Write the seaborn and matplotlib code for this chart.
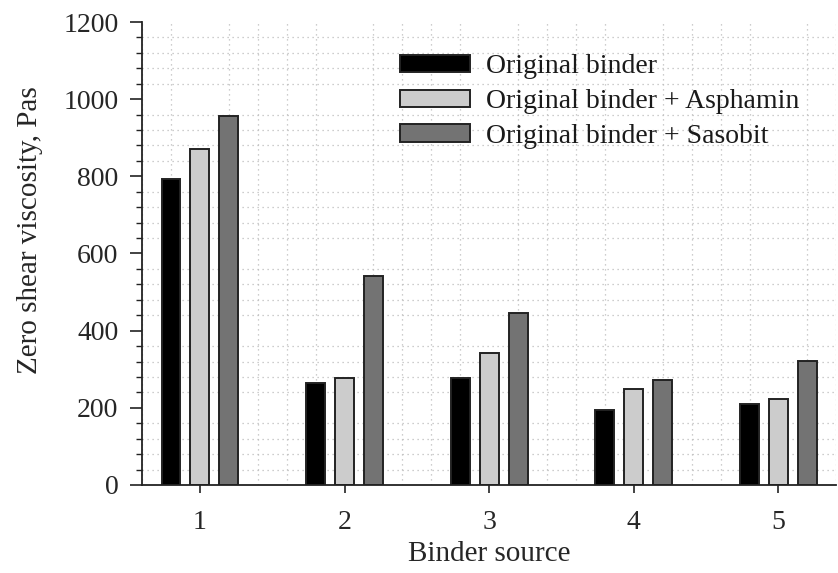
import matplotlib
matplotlib.use("Agg")
import matplotlib.pyplot as plt
from matplotlib.ticker import MultipleLocator, FixedLocator
import seaborn as sns
import pandas as pd

# Zero shear viscosity (Pa·s) per binder source and modification
sources = ["1", "2", "3", "4", "5"]
original = [793, 264, 277, 194, 210]
asphamin = [871, 277, 342, 249, 223]
sasobit = [956, 542, 446, 272, 321]
series_names = ["Original binder", "Original binder + Asphamin", "Original binder + Sasobit"]
bar_colors = ["#000000", "#cccccc", "#737373"]

df = pd.DataFrame({
    "source": sources * 3,
    "viscosity": original + asphamin + sasobit,
    "binder": [series_names[0]] * 5 + [series_names[1]] * 5 + [series_names[2]] * 5,
})

sns.set_style("white")
plt.rcParams["font.family"] = ["Liberation Serif", "DejaVu Serif"]
plt.rcParams["text.color"] = "#1a1a1a"

fig = plt.figure(figsize=(8.38, 5.73), dpi=100)
ax = fig.add_axes([0.1695, 0.1536, 0.8285, 0.808])

sns.barplot(
    data=df, x="source", y="viscosity", hue="binder",
    hue_order=series_names, palette=bar_colors,
    width=0.6, gap=0.35, edgecolor="#222222", linewidth=1.4,
    errorbar=None, ax=ax,
)

ax.set_xlim(-0.4, 4.4)
ax.set_ylim(0, 1200)
ax.yaxis.set_major_locator(MultipleLocator(200))
ax.yaxis.set_minor_locator(MultipleLocator(40))
ax.xaxis.set_major_locator(FixedLocator(range(5)))
ax.xaxis.set_minor_locator(MultipleLocator(0.2))
ax.set_xticklabels(sources)

ax.grid(False, which="major")
ax.grid(True, which="minor", linestyle=(0, (1, 3)), color="#bdbdbd", linewidth=0.9)
ax.set_axisbelow(True)

for side in ["top", "right"]:
    ax.spines[side].set_visible(False)
for side in ["left", "bottom"]:
    ax.spines[side].set_color("#222222")
    ax.spines[side].set_linewidth(1.3)

ax.tick_params(axis="y", which="major", direction="out", length=9, width=1.2,
               color="#222222", labelsize=20, pad=8, left=True)
ax.tick_params(axis="y", which="minor", direction="out", length=4.5, width=1.0,
               color="#222222", left=True)
ax.tick_params(axis="x", which="major", direction="out", length=6, width=1.2,
               color="#222222", labelsize=20, pad=12, bottom=True)
ax.tick_params(axis="x", which="minor", length=0)

ax.set_xlabel("Binder source", fontsize=21)
ax.set_ylabel("Zero shear viscosity, Pas", fontsize=21)
ax.xaxis.set_label_coords(0.5, -0.122)
ax.yaxis.set_label_coords(-0.142, 0.55)

ax.legend(
    loc="upper left", bbox_to_anchor=(0.372, 0.93), frameon=False,
    fontsize=20, handlelength=2.5, handleheight=0.6, handletextpad=0.6,
    labelspacing=0.35, borderaxespad=0, borderpad=0,
)

fig.savefig("out.png", dpi=100)
